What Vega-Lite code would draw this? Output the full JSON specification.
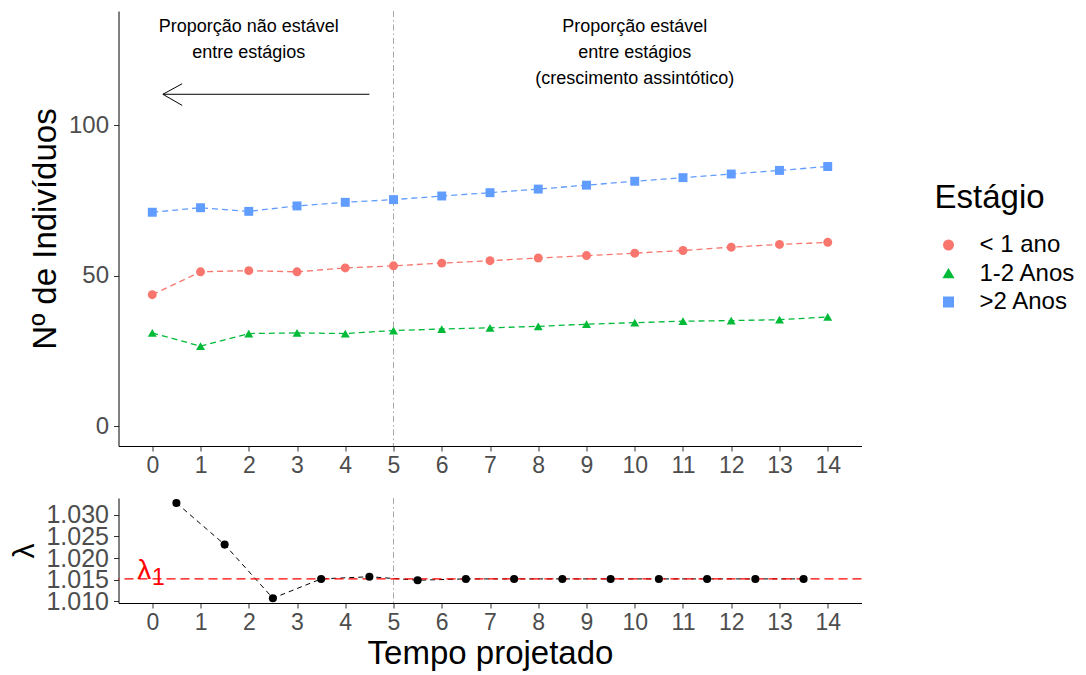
{
  "$schema": "https://vega.github.io/schema/vega-lite/v6.json",
  "background": "white",
  "padding": {"left": 9.5, "top": 10, "right": 5, "bottom": 5},
  "bounds": "flush",
  "spacing": 52,
  "config": {
    "font": "Liberation Sans",
    "view": {"stroke": null},
    "axis": {
      "grid": false,
      "domainColor": "#000000",
      "domainWidth": 1,
      "tickColor": "#333333",
      "tickSize": 5,
      "tickWidth": 1,
      "labelColor": "#4D4D4D",
      "labelFont": "Liberation Sans",
      "titleFont": "Liberation Sans",
      "titleColor": "#000000",
      "titleFontWeight": "normal",
      "labelFlush": false,
      "labelBound": false,
      "labelOverlap": false
    },
    "legend": {
      "titleFont": "Liberation Sans",
      "labelFont": "Liberation Sans",
      "titleFontSize": 33,
      "titleFontWeight": "normal",
      "titleColor": "#000000",
      "labelFontSize": 24,
      "labelColor": "#000000",
      "padding": 0
    }
  },
  "datasets": {
    "pop": [
      {"t": 0, "estagio": "< 1 ano", "n": 43.7},
      {"t": 1, "estagio": "< 1 ano", "n": 51.3},
      {"t": 2, "estagio": "< 1 ano", "n": 51.7},
      {"t": 3, "estagio": "< 1 ano", "n": 51.3},
      {"t": 4, "estagio": "< 1 ano", "n": 52.6},
      {"t": 5, "estagio": "< 1 ano", "n": 53.3},
      {"t": 6, "estagio": "< 1 ano", "n": 54.2},
      {"t": 7, "estagio": "< 1 ano", "n": 55.0},
      {"t": 8, "estagio": "< 1 ano", "n": 55.9},
      {"t": 9, "estagio": "< 1 ano", "n": 56.7},
      {"t": 10, "estagio": "< 1 ano", "n": 57.5},
      {"t": 11, "estagio": "< 1 ano", "n": 58.4},
      {"t": 12, "estagio": "< 1 ano", "n": 59.5},
      {"t": 13, "estagio": "< 1 ano", "n": 60.4},
      {"t": 14, "estagio": "< 1 ano", "n": 61.1},
      {"t": 0, "estagio": "1-2 Anos", "n": 31.0},
      {"t": 1, "estagio": "1-2 Anos", "n": 26.6},
      {"t": 2, "estagio": "1-2 Anos", "n": 30.8},
      {"t": 3, "estagio": "1-2 Anos", "n": 31.0},
      {"t": 4, "estagio": "1-2 Anos", "n": 30.8},
      {"t": 5, "estagio": "1-2 Anos", "n": 31.8},
      {"t": 6, "estagio": "1-2 Anos", "n": 32.3},
      {"t": 7, "estagio": "1-2 Anos", "n": 32.7},
      {"t": 8, "estagio": "1-2 Anos", "n": 33.2},
      {"t": 9, "estagio": "1-2 Anos", "n": 33.9},
      {"t": 10, "estagio": "1-2 Anos", "n": 34.4},
      {"t": 11, "estagio": "1-2 Anos", "n": 34.9},
      {"t": 12, "estagio": "1-2 Anos", "n": 35.1},
      {"t": 13, "estagio": "1-2 Anos", "n": 35.4},
      {"t": 14, "estagio": "1-2 Anos", "n": 36.3},
      {"t": 0, "estagio": ">2 Anos", "n": 71.1},
      {"t": 1, "estagio": ">2 Anos", "n": 72.6},
      {"t": 2, "estagio": ">2 Anos", "n": 71.4},
      {"t": 3, "estagio": ">2 Anos", "n": 73.2},
      {"t": 4, "estagio": ">2 Anos", "n": 74.4},
      {"t": 5, "estagio": ">2 Anos", "n": 75.3},
      {"t": 6, "estagio": ">2 Anos", "n": 76.5},
      {"t": 7, "estagio": ">2 Anos", "n": 77.6},
      {"t": 8, "estagio": ">2 Anos", "n": 78.8},
      {"t": 9, "estagio": ">2 Anos", "n": 80.1},
      {"t": 10, "estagio": ">2 Anos", "n": 81.4},
      {"t": 11, "estagio": ">2 Anos", "n": 82.6},
      {"t": 12, "estagio": ">2 Anos", "n": 83.8},
      {"t": 13, "estagio": ">2 Anos", "n": 85.0},
      {"t": 14, "estagio": ">2 Anos", "n": 86.3}
    ],
    "lam": [
      {"t": 0.5, "lambda": 1.0327},
      {"t": 1.5, "lambda": 1.0231},
      {"t": 2.5, "lambda": 1.01075},
      {"t": 3.5, "lambda": 1.0152},
      {"t": 4.5, "lambda": 1.0157},
      {"t": 5.5, "lambda": 1.0149},
      {"t": 6.5, "lambda": 1.0152},
      {"t": 7.5, "lambda": 1.0152},
      {"t": 8.5, "lambda": 1.0152},
      {"t": 9.5, "lambda": 1.0152},
      {"t": 10.5, "lambda": 1.0152},
      {"t": 11.5, "lambda": 1.0152},
      {"t": 12.5, "lambda": 1.0152},
      {"t": 13.5, "lambda": 1.0152}
    ],
    "lam1": [{"t": 0, "lambda": 1.0152, "sym": "λ", "sub": "1"}],
    "vline": [{"t": 5}],
    "notes": [
      {"t": 2, "n": 130.9, "label": "Proporção não estável\nentre estágios"},
      {"t": 10, "n": 130.9, "label": "Proporção estável\nentre estágios\n(crescimento assintótico)"}
    ],
    "arrow": [
      {"t": 4.5, "t2": 0.22, "n": 110.3, "n2": 110.3},
      {"t": 0.22, "t2": 0.62, "n": 110.3, "n2": 113.8},
      {"t": 0.22, "t2": 0.62, "n": 110.3, "n2": 106.6}
    ]
  },
  "vconcat": [
    {
      "width": 743,
      "height": 435,
      "layer": [
        {
          "data": {"name": "vline"},
          "mark": {"type": "rule", "color": "#A8A8A8", "strokeWidth": 1, "strokeDash": [6, 3, 1.5, 3]},
          "encoding": {
            "x": {"field": "t", "type": "quantitative",
                  "scale": {"domain": [-0.7, 14.7], "nice": false, "zero": false},
                  "axis": {"title": null, "values": [0,1,2,3,4,5,6,7,8,9,10,11,12,13,14], "tickCount": 20, "labelFontSize": 23, "labelPadding": 3}}
          }
        },
        {
          "data": {"name": "pop"},
          "mark": {"type": "line", "strokeWidth": 1.3, "strokeDash": [6, 4]},
          "encoding": {
            "x": {"field": "t", "type": "quantitative"},
            "y": {"field": "n", "type": "quantitative",
                  "scale": {"domain": [-6.57, 137.97], "nice": false, "zero": false},
                  "axis": {"title": "Nº de Indivíduos", "values": [0, 50, 100], "tickCount": 5, "labelFontSize": 24, "labelPadding": 5, "titleFontSize": 33, "titlePadding": 6}},
            "color": {"field": "estagio", "type": "nominal",
                      "scale": {"domain": ["< 1 ano", "1-2 Anos", ">2 Anos"], "range": ["#F8766D", "#00BA38", "#619CFF"]}}
          }
        },
        {
          "data": {"name": "pop"},
          "mark": {"type": "point", "filled": true, "opacity": 1, "size": 80},
          "encoding": {
            "x": {"field": "t", "type": "quantitative"},
            "y": {"field": "n", "type": "quantitative"},
            "color": {"field": "estagio", "type": "nominal", "title": "Estágio",
                      "legend": {"orient": "none", "legendX": 816, "legendY": 171, "symbolSize": 90, "rowPadding": 4.5, "titlePadding": 18, "symbolOffset": 2, "labelOffset": 19}},
            "shape": {"field": "estagio", "type": "nominal", "title": "Estágio",
                      "scale": {"domain": ["< 1 ano", "1-2 Anos", ">2 Anos"], "range": ["circle", "triangle-up", "square"]}}
          }
        },
        {
          "data": {"name": "notes"},
          "mark": {"type": "text", "fontSize": 18, "lineBreak": "\n", "lineHeight": 26, "align": "center", "baseline": "alphabetic", "color": "#000000"},
          "encoding": {
            "x": {"field": "t", "type": "quantitative"},
            "y": {"field": "n", "type": "quantitative"},
            "text": {"field": "label"}
          }
        },
        {
          "data": {"name": "arrow"},
          "mark": {"type": "rule", "color": "#000000", "strokeWidth": 1},
          "encoding": {
            "x": {"field": "t", "type": "quantitative"},
            "x2": {"field": "t2"},
            "y": {"field": "n", "type": "quantitative"},
            "y2": {"field": "n2"}
          }
        }
      ]
    },
    {
      "width": 743,
      "height": 105,
      "layer": [
        {
          "data": {"name": "lam"},
          "mark": {"type": "line", "color": "#000000", "strokeWidth": 1, "strokeDash": [5, 4]},
          "encoding": {
            "x": {"field": "t", "type": "quantitative",
                  "scale": {"domain": [-0.7, 14.7], "nice": false, "zero": false},
                  "axis": {"title": "Tempo projetado", "values": [0,1,2,3,4,5,6,7,8,9,10,11,12,13,14], "tickCount": 20, "labelFontSize": 23, "labelPadding": 3, "titleFontSize": 33, "titlePadding": 3}},
            "y": {"field": "lambda", "type": "quantitative",
                  "scale": {"domain": [1.00965, 1.03384], "nice": false, "zero": false},
                  "axis": {"title": "λ", "values": [1.010, 1.015, 1.020, 1.025, 1.030], "tickCount": 10, "format": ".3f", "labelFontSize": 25, "labelPadding": 5, "titleFontSize": 30, "titlePadding": 6}}
          }
        },
        {
          "data": {"name": "vline"},
          "mark": {"type": "rule", "color": "#A8A8A8", "strokeWidth": 1, "strokeDash": [6, 3, 1.5, 3]},
          "encoding": {
            "x": {"field": "t", "type": "quantitative"}
          }
        },
        {
          "data": {"name": "lam1"},
          "mark": {"type": "rule", "color": "#FF0000", "strokeWidth": 1.2, "strokeDash": [9, 5]},
          "encoding": {
            "y": {"field": "lambda", "type": "quantitative"}
          }
        },
        {
          "data": {"name": "lam"},
          "mark": {"type": "point", "filled": true, "opacity": 1, "size": 65, "color": "#000000"},
          "encoding": {
            "x": {"field": "t", "type": "quantitative"},
            "y": {"field": "lambda", "type": "quantitative"}
          }
        },
        {
          "data": {"name": "lam1"},
          "mark": {"type": "text", "fontSize": 28, "color": "#FF0000", "align": "center", "baseline": "alphabetic", "dx": -8},
          "encoding": {
            "x": {"field": "t", "type": "quantitative"},
            "y": {"field": "lambda", "type": "quantitative"},
            "text": {"field": "sym"}
          }
        },
        {
          "data": {"name": "lam1"},
          "mark": {"type": "text", "fontSize": 23, "color": "#FF0000", "align": "center", "baseline": "alphabetic", "dx": 6, "dy": 6},
          "encoding": {
            "x": {"field": "t", "type": "quantitative"},
            "y": {"field": "lambda", "type": "quantitative"},
            "text": {"field": "sub"}
          }
        }
      ]
    }
  ]
}
